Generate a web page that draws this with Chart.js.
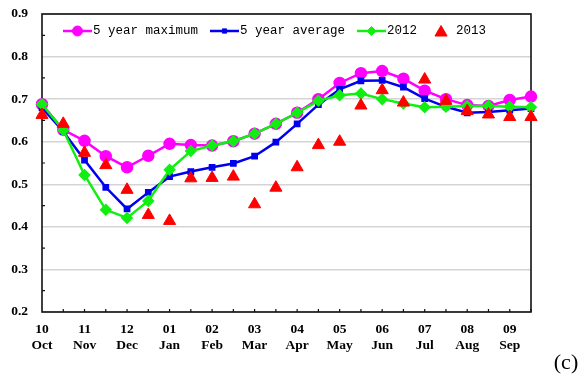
<!DOCTYPE html>
<html>
<head>
<meta charset="utf-8">
<script src="https://cdn.jsdelivr.net/npm/chart.js@4.4.1/dist/chart.umd.min.js"></script>
<style>
  html, body { margin: 0; padding: 0; background: #fff; }
</style>
</head>
<body>
<canvas id="chart" width="586" height="376"></canvas>
<script>
// month ticks (one labelled tick every two points)
const monthNums = ["10", "11", "12", "01", "02", "03", "04", "05", "06", "07", "08", "09"];
const monthNames = ["Oct", "Nov", "Dec", "Jan", "Feb", "Mar", "Apr", "May", "Jun", "Jul", "Aug", "Sep"];
const yTicks = [0.2, 0.3, 0.4, 0.5, 0.6, 0.7, 0.8, 0.9];

// half-month values
const max5 = [0.688, 0.628, 0.602, 0.566, 0.540, 0.567, 0.595, 0.592, 0.591, 0.601, 0.619, 0.642,
              0.668, 0.700, 0.738, 0.761, 0.766, 0.748, 0.720, 0.700, 0.686, 0.684, 0.698, 0.706];
const avg5 = [0.680, 0.624, 0.557, 0.493, 0.442, 0.481, 0.518, 0.530, 0.540, 0.549, 0.566, 0.599,
              0.642, 0.687, 0.723, 0.743, 0.744, 0.728, 0.701, 0.682, 0.668, 0.670, 0.674, 0.678];
const y2012 = [0.688, 0.627, 0.522, 0.440, 0.421, 0.461, 0.534, 0.578, 0.591, 0.601, 0.619, 0.642,
               0.668, 0.696, 0.709, 0.713, 0.700, 0.690, 0.681, 0.682, 0.684, 0.684, 0.682, 0.681];
const y2013 = [0.663, 0.642, 0.574, 0.545, 0.487, 0.428, 0.414, 0.514, 0.515, 0.518, 0.453, 0.492,
               0.540, 0.592, 0.600, 0.685, 0.721, 0.692, 0.746, 0.696, 0.672, 0.664, 0.658, 0.658];

const labels = [];
monthNums.forEach((m, i) => { labels.push([m, monthNames[i]]); labels.push(""); });

// frame + small inward ticks
const frame = {
    id: "frame",
    beforeDatasetsDraw(chart) {
        const { ctx, chartArea: a, scales: { x, y } } = chart;
        ctx.save();
        ctx.strokeStyle = "#111";
        ctx.lineWidth = 1.2;
        ctx.beginPath();
        for (let i = 1; i < labels.length; i++) {
            const px = x.getPixelForValue(i);
            ctx.moveTo(px, a.bottom);
            ctx.lineTo(px, a.bottom - 3);
        }
        for (let v = 0.25; v < 0.9; v += 0.1) {
            const py = y.getPixelForValue(v);
            ctx.moveTo(a.left, py);
            ctx.lineTo(a.left + 3, py);
        }
        ctx.stroke();
        ctx.lineWidth = 1.6;
        ctx.strokeRect(a.left, a.top, a.right - a.left, a.bottom - a.top);
        ctx.restore();
    }
};

// legend inside the plot + panel tag
const insideLegend = {
    id: "insideLegend",
    afterDraw(chart) {
        const ctx = chart.ctx;
        const ly = 31;
        let lx = 63;
        ctx.save();
        ctx.font = '12.5px "Liberation Mono"';
        ctx.textBaseline = "middle";
        ctx.textAlign = "left";
        chart.data.datasets.forEach(ds => {
            ctx.strokeStyle = ds.borderColor;
            ctx.fillStyle = ds.backgroundColor;
            let tx;
            if (ds.showLine !== false) {
                ctx.lineWidth = 2.5;
                ctx.beginPath();
                ctx.moveTo(lx, ly);
                ctx.lineTo(lx + 29, ly);
                ctx.stroke();
                ctx.lineWidth = 1;
                Chart.helpers.drawPoint(ctx, { pointStyle: ds.pointStyle, radius: ds.pointRadius, borderWidth: 1, rotation: 0 }, lx + 14.5, ly);
                tx = lx + 30;
            } else {
                Chart.helpers.drawPoint(ctx, { pointStyle: ds.pointStyle, radius: ds.pointRadius, borderWidth: 1, rotation: 0 }, lx + 12, ly + 1.5);
                tx = lx + 27;
            }
            ctx.fillStyle = "#000";
            ctx.fillText(ds.label, tx, ly);
            lx = tx + ctx.measureText(ds.label).width + 12;
        });
        ctx.font = '22px "Liberation Serif"';
        ctx.textAlign = "center";
        ctx.fillText("(c)", 566, 363);
        ctx.restore();
    }
};

const chart = new Chart(document.getElementById("chart"), {
    type: "line",
    data: {
        labels: labels,
        datasets: [
            { label: "5 year maximum", data: max5, borderColor: "#ff00ff", backgroundColor: "#ff00ff",
              pointStyle: "circle", pointRadius: 5, borderWidth: 2.5, order: 4 },
            { label: "5 year average", data: avg5, borderColor: "#0000ee", backgroundColor: "#0000ee",
              pointStyle: "rect", pointRadius: 3, borderWidth: 2.5, order: 3 },
            { label: "2012", data: y2012, borderColor: "#11ee11", backgroundColor: "#11ee11",
              pointStyle: "rectRot", pointRadius: 4.5, borderWidth: 2.5, order: 2 },
            { label: "2013", data: y2013, borderColor: "#ff0000", backgroundColor: "#ff0000",
              pointStyle: "triangle", pointRadius: 7, showLine: false, order: 1 }
        ]
    },
    options: {
        responsive: false,
        animation: false,
        layout: { padding: { top: 14, right: 55, left: 0, bottom: 0 } },
        plugins: { legend: { display: false }, tooltip: { enabled: false } },
        elements: { line: { tension: 0 } },
        scales: {
            x: {
                offset: false,
                afterFit: s => { s.height = 64; },
                grid: { display: false },
                border: { display: false },
                ticks: {
                    autoSkip: false, maxRotation: 0, padding: 1, color: "#000",
                    font: { family: "Liberation Serif", weight: "bold", size: 13.5, lineHeight: 1.2 }
                }
            },
            y: {
                min: 0.2, max: 0.9,
                afterFit: s => { s.width = 42; },
                afterBuildTicks: s => { s.ticks = yTicks.map(v => ({ value: v })); },
                grid: { color: "#d4d4d4", lineWidth: 1.5, drawTicks: true, tickLength: 9, tickColor: "rgba(0,0,0,0)" },
                border: { display: false },
                ticks: {
                    padding: 5, color: "#000",
                    callback: v => v.toFixed(1),
                    font: { family: "Liberation Serif", weight: "bold", size: 13.5 }
                }
            }
        }
    },
    plugins: [frame, insideLegend]
});
</script>
</body>
</html>
